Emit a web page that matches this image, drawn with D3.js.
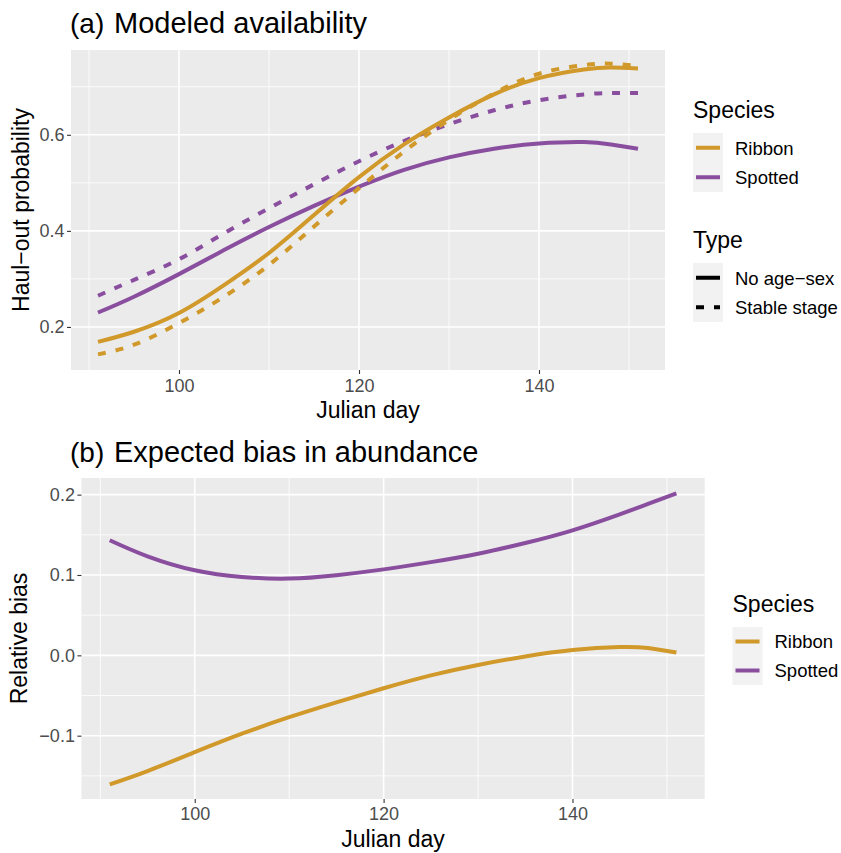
<!DOCTYPE html>
<html>
<head>
<meta charset="utf-8">
<script src="https://cdn.jsdelivr.net/npm/d3@7"></script>
<style>
  html, body { margin: 0; padding: 0; background: #ffffff; }
  svg { display: block; font-family: "Liberation Sans", Arial, Helvetica, sans-serif; }
</style>
</head>
<body>
<svg id="chart" width="841" height="853"></svg>
<script>
// ---------------- data ----------------
const days = [91, 95, 100, 105, 110, 115, 120, 125, 130, 135, 140, 145, 148, 151];

// Panel (a): haul-out probability
const ribbonNoAgeSex   = [0.169, 0.190, 0.229, 0.287, 0.354, 0.433, 0.512, 0.580, 0.636, 0.684, 0.718, 0.736, 0.740, 0.738];
const ribbonStable     = [0.143, 0.163, 0.208, 0.263, 0.329, 0.409, 0.489, 0.565, 0.631, 0.686, 0.727, 0.745, 0.748, 0.743];
const spottedNoAgeSex  = [0.230, 0.263, 0.310, 0.360, 0.408, 0.452, 0.492, 0.527, 0.553, 0.571, 0.582, 0.585, 0.580, 0.571];
const spottedStable    = [0.265, 0.298, 0.341, 0.395, 0.447, 0.497, 0.545, 0.587, 0.622, 0.651, 0.672, 0.684, 0.687, 0.687];

// Panel (b): relative bias
const ribbonBias  = [-0.1606, -0.1440, -0.1205, -0.0975, -0.0770, -0.0585, -0.0410, -0.0250, -0.0120, -0.0015, 0.0065, 0.0103, 0.0091, 0.0035];
const spottedBias = [0.1432, 0.1232, 0.1058, 0.0975, 0.0955, 0.0998, 0.1070, 0.1160, 0.1265, 0.1398, 0.1556, 0.1755, 0.1884, 0.2015];

const xTicks = [100, 120, 140];
const xMinor = [90, 110, 130, 150];
const yTicksA = [0.2, 0.4, 0.6];
const yMinorA = [0.3, 0.5, 0.7];
const yTicksB = [-0.1, 0.0, 0.1, 0.2];
const yMinorB = [-0.15, -0.05, 0.05, 0.15];

const speciesLabels = ["Ribbon", "Spotted"];
const typeLabels = ["No age\u2212sex", "Stable stage"];

// ---------------- styles ----------------
const colRibbon = "#D0992A";
const colSpotted = "#8A4E9F";
const speciesColors = [colRibbon, colSpotted];
const panelBg = "#EBEBEB";
const keyBg = "#F2F2F2";
const lineW = 4;
const dash = "8,10";

const svg = d3.select("#chart");

function panel(cfg) {
  const g = svg.append("g");
  const x = d3.scaleLinear().domain(cfg.xDomain).range(cfg.xRange);
  const y = d3.scaleLinear().domain(cfg.yDomain).range(cfg.yRange);
  const [x0, x1] = cfg.xRange, [y1, y0] = cfg.yRange;

  g.append("rect").attr("x", x0).attr("y", y0).attr("width", x1 - x0).attr("height", y1 - y0).attr("fill", panelBg);

  // minor grid
  g.selectAll(".gxm").data(xMinor).join("line")
    .attr("x1", d => x(d)).attr("x2", d => x(d)).attr("y1", y0).attr("y2", y1)
    .attr("stroke", "#fff").attr("stroke-width", 0.8);
  g.selectAll(".gym").data(cfg.yMinor).join("line")
    .attr("x1", x0).attr("x2", x1).attr("y1", d => y(d)).attr("y2", d => y(d))
    .attr("stroke", "#fff").attr("stroke-width", 0.8);
  // major grid
  g.selectAll(".gx").data(xTicks).join("line")
    .attr("x1", d => x(d)).attr("x2", d => x(d)).attr("y1", y0).attr("y2", y1)
    .attr("stroke", "#fff").attr("stroke-width", 1.6);
  g.selectAll(".gy").data(cfg.yTicks).join("line")
    .attr("x1", x0).attr("x2", x1).attr("y1", d => y(d)).attr("y2", d => y(d))
    .attr("stroke", "#fff").attr("stroke-width", 1.6);

  // axes
  const xa = g.append("g").attr("transform", `translate(0,${y1})`)
    .call(d3.axisBottom(x).tickValues(xTicks).tickSize(4).tickFormat(d3.format("d")));
  xa.select(".domain").remove();
  xa.selectAll(".tick line").attr("stroke", "#333333").attr("stroke-width", 1.1);
  xa.selectAll(".tick text").attr("dy", null).attr("y", cfg.xLabY)
    .attr("fill", "#4D4D4D").attr("font-size", 18).attr("font-family", null);

  const ya = g.append("g").attr("transform", `translate(${x0},0)`)
    .call(d3.axisLeft(y).tickValues(cfg.yTicks).tickSize(4).tickPadding(2.5).tickFormat(d3.format(".1f")));
  ya.select(".domain").remove();
  ya.selectAll(".tick line").attr("stroke", "#333333").attr("stroke-width", 1.1);
  ya.selectAll(".tick text").attr("fill", "#4D4D4D").attr("font-size", 18).attr("font-family", null);

  // series
  const line = d3.line().x((d, i) => x(days[i])).y(d => y(d)).curve(d3.curveNatural);
  cfg.series.forEach(s => {
    g.append("path").attr("d", line(s.values)).attr("fill", "none")
      .attr("stroke", s.color).attr("stroke-width", lineW)
      .attr("stroke-dasharray", s.dashed ? dash : null)
      .attr("stroke-linecap", "butt").attr("stroke-linejoin", "round");
  });

  // titles
  const t = g.append("text").attr("y", cfg.titleY).attr("fill", "#000");
  t.append("tspan").attr("x", 70).attr("font-size", 28).text(cfg.titleTag);
  t.append("tspan").attr("x", 114).attr("font-size", 29).text(cfg.title);

  g.append("text").attr("x", (x0 + x1) / 2).attr("y", cfg.xTitleY).attr("text-anchor", "middle")
    .attr("font-size", 23).attr("fill", "#000").text("Julian day");
  g.append("text").attr("transform", `translate(${cfg.yTitleX},${(y0 + y1) / 2}) rotate(-90)`)
    .attr("text-anchor", "middle").attr("font-size", 23).attr("fill", "#000").text(cfg.yTitle);
  return g;
}

panel({
  xDomain: [88, 154], xRange: [71, 665],
  yDomain: [0.1104, 0.7765], yRange: [370, 50],
  yTicks: yTicksA, yMinor: yMinorA,
  xLabY: 21.7, xTitleY: 418, yTitleX: 28.5,
  titleY: 32.5, titleTag: "(a)", title: "Modeled availability",
  yTitle: "Haul\u2212out probability",
  series: [
    { values: spottedStable, color: colSpotted, dashed: true },
    { values: spottedNoAgeSex, color: colSpotted, dashed: false },
    { values: ribbonNoAgeSex, color: colRibbon, dashed: false },
    { values: ribbonStable, color: colRibbon, dashed: true }
  ]
});

panel({
  xDomain: [88, 154], xRange: [81.4, 704.7],
  yDomain: [-0.1788, 0.2207], yRange: [799, 478],
  yTicks: yTicksB, yMinor: yMinorB,
  xLabY: 21, xTitleY: 847, yTitleX: 27,
  titleY: 462.3, titleTag: "(b)", title: "Expected bias in abundance",
  yTitle: "Relative bias",
  series: [
    { values: ribbonBias, color: colRibbon, dashed: false },
    { values: spottedBias, color: colSpotted, dashed: false }
  ]
});

// ---------------- legends ----------------
function legend(cfg) {
  const g = svg.append("g");
  g.append("text").attr("x", cfg.x).attr("y", cfg.titleY).attr("font-size", 23).attr("fill", "#000").text(cfg.title);
  g.append("rect").attr("x", cfg.x).attr("y", cfg.keyY).attr("width", 30).attr("height", cfg.keyH * cfg.items.length).attr("fill", keyBg);
  cfg.items.forEach((it, i) => {
    const cy = cfg.keyY + cfg.keyH * (i + 0.5);
    g.append("line").attr("x1", cfg.x + 3).attr("x2", cfg.x + 27).attr("y1", cy).attr("y2", cy)
      .attr("stroke", it.color).attr("stroke-width", lineW)
      .attr("stroke-dasharray", it.dashed ? dash : null);
    g.append("text").attr("x", cfg.x + 42).attr("y", cy + 6.8).attr("font-size", 18.5).attr("fill", "#000").text(it.label);
  });
}

legend({ x: 693, titleY: 118.3, title: "Species", keyY: 133, keyH: 29.5,
  items: speciesLabels.map((l, i) => ({ label: l, color: speciesColors[i], dashed: false })) });
legend({ x: 693, titleY: 248.3, title: "Type", keyY: 263, keyH: 29.5,
  items: typeLabels.map((l, i) => ({ label: l, color: "#000", dashed: i === 1 })) });
legend({ x: 732.5, titleY: 611.7, title: "Species", keyY: 627, keyH: 29,
  items: speciesLabels.map((l, i) => ({ label: l, color: speciesColors[i], dashed: false })) });
</script>
</body>
</html>
